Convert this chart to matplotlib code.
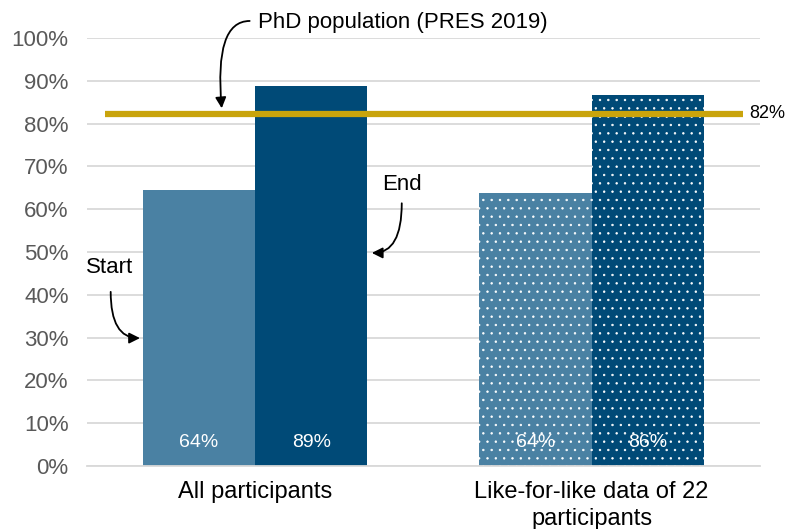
import numpy as np
import matplotlib

matplotlib.use("Agg")
import matplotlib.pyplot as plt

# ── data ────────────────────────────────────────────────────────────────────
categories = ["All participants", "Like-for-like data of 22\nparticipants"]
start_vals = [0.645, 0.637]
end_vals = [0.888, 0.866]
start_labels = ["64%", "64%"]
end_labels = ["89%", "86%"]
pres_value = 0.823
yticks = np.arange(0, 1.01, 0.1)

LIGHT = "#4A81A3"
DARK = "#004A77"
GOLD = "#C9A40C"

plt.rcParams["font.family"] = ["Liberation Sans", "DejaVu Sans"]
plt.rcParams["hatch.color"] = "white"
plt.rcParams["hatch.linewidth"] = 0.5

fig = plt.figure(figsize=(7.89, 5.29), dpi=100)
ax = fig.add_axes([0.110, 0.119, 0.853, 0.809])

x = np.arange(len(categories))
w = 1 / 3
hatches = [None, ".."]

for i in x:
    ax.bar(x[i] - w / 2, start_vals[i], width=w, color=LIGHT, hatch=hatches[i],
           linewidth=0, zorder=2)
    ax.bar(x[i] + w / 2, end_vals[i], width=w, color=DARK, hatch=hatches[i],
           linewidth=0, zorder=2)
    ax.text(x[i] - w / 2, 0.054, start_labels[i], color="white", fontsize=14,
            ha="center", va="center", zorder=4)
    ax.text(x[i] + w / 2, 0.054, end_labels[i], color="white", fontsize=14,
            ha="center", va="center", zorder=4)

# PRES reference line
ax.plot([-0.447, 1.449], [pres_value, pres_value], color=GOLD, lw=4.5,
        solid_capstyle="butt", zorder=3)
ax.text(1.470, pres_value, "82%", fontsize=13, ha="left", va="center",
        clip_on=False)

# annotations
arrow = dict(arrowstyle="-|>", color="black", lw=1.3, mutation_scale=16,
             shrinkA=0, shrinkB=0)
ax.text(0.008, 1.037, "PhD population (PRES 2019)", fontsize=16,
        ha="left", va="center", clip_on=False)
ax.annotate("", xy=(-0.099, 0.836), xytext=(-0.016, 1.040),
            arrowprops=dict(connectionstyle="angle3,angleA=180,angleB=95", **arrow),
            annotation_clip=False)

ax.text(-0.431, 0.463, "Start", fontsize=16, ha="center", va="center")
ax.annotate("", xy=(-0.342, 0.299), xytext=(-0.429, 0.407),
            arrowprops=dict(connectionstyle="angle3,angleA=90,angleB=0", **arrow))

ax.text(0.437, 0.658, "End", fontsize=16, ha="center", va="center")
ax.annotate("", xy=(0.347, 0.498), xytext=(0.436, 0.614),
            arrowprops=dict(connectionstyle="angle3,angleA=90,angleB=0", **arrow))

# axes styling
ax.set_xlim(-0.5, 1.5)
ax.set_ylim(0, 1.0)
ax.set_yticks(yticks)
ax.set_yticklabels([f"{int(round(t * 100))}%" for t in yticks])
ax.set_xticks(x)
ax.set_xticklabels(categories, fontsize=17, linespacing=1.25)
ax.tick_params(axis="y", length=0, labelsize=16, labelcolor="#595959", pad=13)
ax.tick_params(axis="x", length=0, pad=11)
ax.yaxis.grid(True, color="#D9D9D9", lw=1.3, zorder=0)
ax.set_axisbelow(True)
for s in ["top", "right", "left"]:
    ax.spines[s].set_visible(False)
ax.spines["bottom"].set_color("#D9D9D9")
ax.spines["bottom"].set_linewidth(1.3)

fig.savefig("out.png", dpi=100)
